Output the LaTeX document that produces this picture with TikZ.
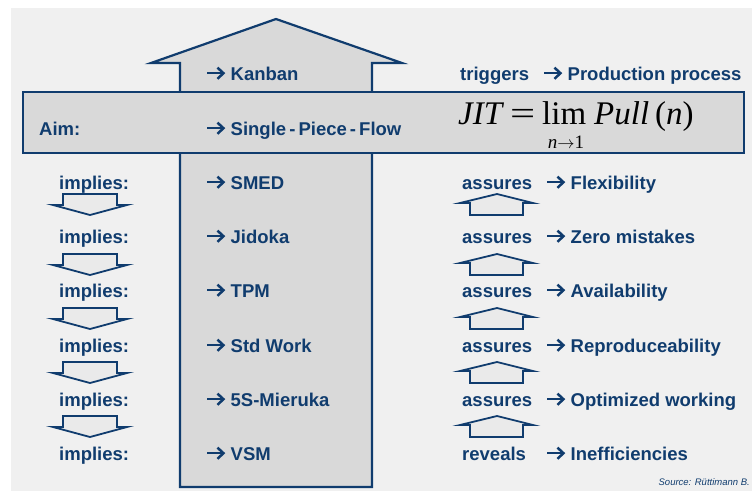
\documentclass[tikz,border=0pt]{standalone}
\usepackage{fontspec}
\setmainfont{Liberation Sans}
\newfontfamily\formfont{Liberation Serif}
\definecolor{dblue}{RGB}{16,60,110}
\definecolor{bgc}{RGB}{240,240,240}
\definecolor{boxc}{RGB}{217,217,217}
\definecolor{smallc}{RGB}{234,234,234}
\newcommand{\myarr}{\tikz[baseline=0pt,x=1pt,y=1pt]{\draw[dblue,line width=2.5pt] (0,6.8)--(15.5,6.8); \draw[dblue,line width=2.5pt,line join=miter] (10,12.4)--(16,6.8)--(10,1.2);}\hspace{6pt}}
\tikzset{
  lbl/.style={anchor=base west, inner sep=0pt, text=dblue, font=\bfseries\fontsize{18.5}{20}\selectfont},
  bigshape/.style={draw=dblue, fill=boxc, line width=2.2pt},
  smallarrow/.style={draw=dblue, fill=smallc, line width=1.8pt},
  formula/.style={anchor=base west, inner sep=0pt, text=black, font=\formfont\fontsize{33}{35}\selectfont},
}
\begin{document}
\begin{tikzpicture}[x=1pt,y=-1pt]
\useasboundingbox (0,0) rectangle (752,491);
\fill[bgc] (11,8) rectangle (752,491);
% big arrow
\draw[bigshape] (276,19) -- (402,63) -- (372,63) -- (372,487) -- (180,487) -- (180,63) -- (151,63) -- cycle;
% band
\draw[bigshape] (23,92) rectangle (744,153);
% small down arrows (left)
\foreach \t in {194,254,308,362,416}{
  \draw[smallarrow] (63,\t) -- (117,\t) -- (117,\t+11) -- (127,\t+11) -- (90,\t+21) -- (53,\t+11) -- (63,\t+11) -- cycle;
}
% small up arrows (right)
\foreach \t in {194,254,308,362,416}{
  \draw[smallarrow] (497,\t) -- (533,\t+9) -- (523,\t+9) -- (523,\t+21) -- (470,\t+21) -- (470,\t+9) -- (460,\t+9) -- cycle;
}
% center column
\node[lbl] (kanban) at (206,80) {\myarr Kanban};
\node[lbl] (spf) at (206,135) {\myarr Single\,-\,Piece\,-\,Flow};
\node[lbl] (smed) at (206,189) {\myarr SMED};
\node[lbl] (jidoka) at (206,243) {\myarr Jidoka};
\node[lbl] (tpm) at (206,297) {\myarr TPM};
\node[lbl] (std) at (206,352) {\myarr Std Work};
\node[lbl] (fives) at (206,406) {\myarr 5S-Mieruka};
\node[lbl] (vsm) at (206,460) {\myarr VSM};
% left column
\node[lbl] (aim) at (39,135) {Aim:};
\foreach \y/\n in {189/1,243/2,297/3,352/4,406/5,460/6}{
  \node[lbl] (imp\n) at (59,\y) {implies:};
}
% right column
\node[lbl] (trig) at (460,80) {triggers};
\node[lbl] (prod) at (543,80) {\myarr Production process};
\node[lbl] (as1) at (462,189) {assures};
\node[lbl] (r1) at (546,189) {\myarr Flexibility};
\node[lbl] (as2) at (462,243) {assures};
\node[lbl] (r2) at (546,243) {\myarr Zero mistakes};
\node[lbl] (as3) at (462,297) {assures};
\node[lbl] (r3) at (546,297) {\myarr Availability};
\node[lbl] (as4) at (462,352) {assures};
\node[lbl] (r4) at (546,352) {\myarr Reproduceability};
\node[lbl] (as5) at (462,406) {assures};
\node[lbl] (r5) at (546,406) {\myarr Optimized working};
\node[lbl] (rev) at (462,460) {reveals};
\node[lbl] (r6) at (546,460) {\myarr Inefficiencies};
% formula
\node[formula] (fjit) at (458,124) {\itshape JIT};
\node[formula] (feq) at (510,124) {\scalebox{1.35}[1]{=}};
\node[formula] (flim) at (542,124) {lim};
\node[formula] (fpull) at (594,124) {\itshape Pull};
\node[formula] (fn) at (655,124) {(\textit{n})};
\node[anchor=base, inner sep=0pt, font=\formfont\fontsize{19}{21}\selectfont] (fsub) at (566,148) {\textit{n}$\rightarrow$1};
% source
\node[anchor=base east, inner sep=0pt, text=dblue, font=\itshape\fontsize{9.5}{11}\selectfont] (src) at (750,485) {Source: Rüttimann B.};
\end{tikzpicture}
\end{document}
